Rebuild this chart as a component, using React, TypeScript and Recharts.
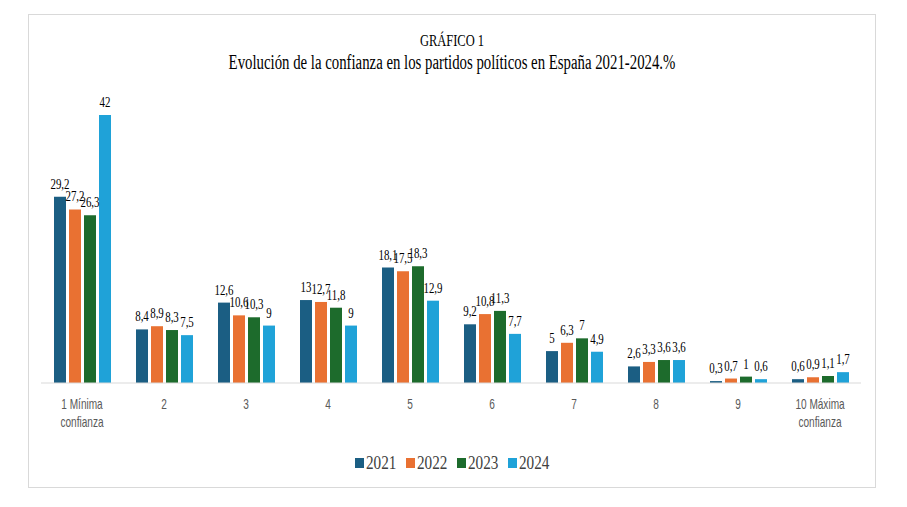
import { BarChart, Bar, XAxis, YAxis, Legend, LabelList } from "recharts";

const categories = [
  "1 Mínima|confianza",
  "2",
  "3",
  "4",
  "5",
  "6",
  "7",
  "8",
  "9",
  "10 Máxima|confianza",
];
const values2021 = [29.2, 8.4, 12.6, 13, 18.1, 9.2, 5, 2.6, 0.3, 0.6];
const values2022 = [27.2, 8.9, 10.6, 12.7, 17.5, 10.8, 6.3, 3.3, 0.7, 0.9];
const values2023 = [26.3, 8.3, 10.3, 11.8, 18.3, 11.3, 7, 3.6, 1, 1.1];
const values2024 = [42, 7.5, 9, 9, 12.9, 7.7, 4.9, 3.6, 0.6, 1.7];

const SERIES = [
  { key: "2021", color: "#1b5e83" },
  { key: "2022", color: "#e97132" },
  { key: "2023", color: "#1d6b2c" },
  { key: "2024", color: "#1fa2d8" },
];

const data = categories.map((cat, i) => ({
  cat,
  "2021": values2021[i],
  "2022": values2022[i],
  "2023": values2023[i],
  "2024": values2024[i],
}));

const SERIF = "'Liberation Serif', 'Times New Roman', serif";
const fmt = (v: number) => String(v).replace(".", ",");

function CategoryTick({ x, y, payload }: any) {
  const lines = String(payload.value).split("|");
  return (
    <text
      transform={`translate(${x},${y + 18}) scale(0.72,1)`}
      textAnchor="middle"
      fill="#595959"
      fontSize={14}
      fontFamily="'Liberation Sans', Arial, sans-serif"
    >
      {lines.map((l, i) => (
        <tspan key={i} x={0} dy={i === 0 ? 0 : 18}>
          {l}
        </tspan>
      ))}
    </text>
  );
}

function ValueLabel({ x, y, width, value }: any) {
  return (
    <text
      transform={`translate(${x + width / 2},${y - 8}) scale(0.78,1)`}
      textAnchor="middle"
      fontSize={14}
      fill="#000"
      fontFamily={SERIF}
    >
      {fmt(value)}
    </text>
  );
}

function LegendContent() {
  return (
    <div style={{ display: "flex", justifyContent: "center", gap: 8, paddingLeft: 4 }}>
      {SERIES.map((s) => (
        <div key={s.key} style={{ display: "flex", alignItems: "center" }}>
          <span style={{ width: 9, height: 10, background: s.color, display: "inline-block" }} />
          <span
            style={{
              fontFamily: SERIF,
              fontSize: 19,
              color: "#404040",
              lineHeight: "24px",
              display: "inline-block",
              width: 32,
              transform: "scale(0.8,1)",
              transformOrigin: "left center",
              marginLeft: 2,
            }}
          >
            {s.key}
          </span>
        </div>
      ))}
    </div>
  );
}

export default function App() {
  return (
    <div
      style={{
        position: "absolute",
        left: 28,
        top: 14,
        width: 846,
        height: 472,
        border: "1px solid #d9d9d9",
        background: "#fff",
        fontFamily: SERIF,
      }}
    >
      <div style={{ position: "absolute", top: 16, width: "100%", textAlign: "center", color: "#000" }}>
        <div style={{ fontSize: 16, lineHeight: "20px", transform: "scale(0.78,1)" }}>GRÁFICO 1</div>
        <div style={{ fontSize: 20, lineHeight: "22px", transform: "scale(0.74,1)" }}>
          Evolución de la confianza en los partidos políticos en España 2021-2024.%
        </div>
      </div>
      <BarChart
        width={846}
        height={472}
        data={data}
        margin={{ top: 100, right: 14, left: 12, bottom: 12 }}
        barSize={12}
        barGap={3}
      >
        <XAxis
          dataKey="cat"
          interval={0}
          tickLine={false}
          axisLine={{ stroke: "#d9d9d9" }}
          tick={<CategoryTick />}
          height={68}
        />
        <YAxis hide domain={[0, 42]} />
        <Legend verticalAlign="bottom" align="center" content={<LegendContent />} />
        {SERIES.map((s) => (
          <Bar key={s.key} dataKey={s.key} fill={s.color} isAnimationActive={false}>
            <LabelList dataKey={s.key} content={<ValueLabel />} />
          </Bar>
        ))}
      </BarChart>
    </div>
  );
}
